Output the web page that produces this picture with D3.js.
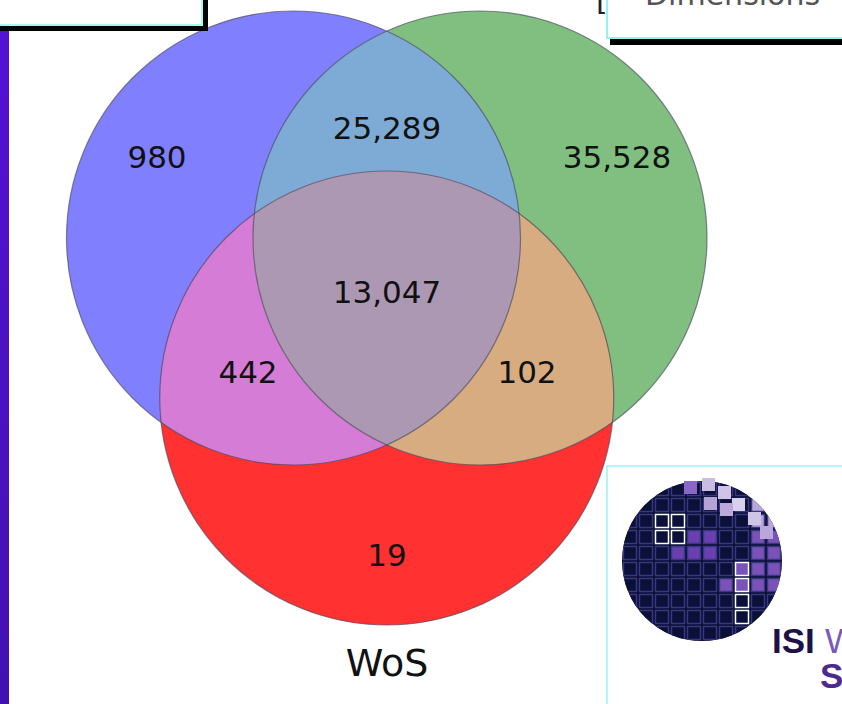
<!DOCTYPE html>
<html><head><meta charset="utf-8">
<script src="https://cdn.jsdelivr.net/npm/d3@7"></script>
<style>html,body{margin:0;padding:0;background:#fff;overflow:hidden}svg{display:block}</style>
</head><body>
<svg id="c" width="842" height="704"></svg>
<script>
// ---- data ----
const setNames = ["Scopus", "Dimensions", "WoS"];
const regionKeys = ["100", "010", "001", "110", "101", "011", "111"];
const regionValues = [980, 35528, 19, 25289, 442, 102, 13047];
const regionColors = ["#8080fe", "#80bf80", "#ff3131", "#7eaad6", "#d57cd7", "#d6ac80", "#ac98b2"];
const setColors = ["#8080fe", "#80bf80", "#ff3131"];

// ---- layout ----
const svg = d3.select("#c");
const x = d3.scaleLinear().domain([-1, 1]).range([293.5, 480]);
const y = d3.scaleLinear().domain([-1, 1]).range([238, 398]);
const R = 227;
const circles = [
  {cx: x(-1), cy: y(-1)},
  {cx: x(1), cy: y(-1)},
  {cx: (x(-1) + x(1)) / 2, cy: y(1)}
];

const defs = svg.append("defs");
circles.forEach((c, i) => {
  defs.append("clipPath").attr("id", "clip" + i)
    .append("circle").attr("cx", c.cx).attr("cy", c.cy).attr("r", R);
});
defs.append("clipPath").attr("id", "globeclip")
  .append("circle").attr("cx", 702).attr("cy", 561).attr("r", 80);
const grad = defs.append("linearGradient").attr("id", "bar").attr("x1", 0).attr("y1", 0).attr("x2", 0).attr("y2", 1);
grad.append("stop").attr("offset", 0).attr("stop-color", "#5312d4");
grad.append("stop").attr("offset", 1).attr("stop-color", "#4311b0");

const venn = svg.append("g");
// single-set fills
circles.forEach((c, i) => {
  venn.append("circle").attr("cx", c.cx).attr("cy", c.cy).attr("r", R).attr("fill", setColors[i]);
});
// pairwise and triple overlaps via nested clip paths
regionKeys.forEach((k, idx) => {
  const members = [...k].map((b, i) => b === "1" ? i : -1).filter(i => i >= 0);
  if (members.length < 2) return;
  let g = venn;
  members.slice(0, -1).forEach(m => { g = g.append("g").attr("clip-path", `url(#clip${m})`); });
  const last = circles[members[members.length - 1]];
  g.append("circle").attr("cx", last.cx).attr("cy", last.cy).attr("r", R).attr("fill", regionColors[idx]);
});
// outlines
circles.forEach(c => {
  venn.append("circle").attr("cx", c.cx).attr("cy", c.cy).attr("r", R)
    .attr("fill", "none").attr("stroke", "#4a4a60").attr("stroke-opacity", 0.65).attr("stroke-width", 1.2);
});

// region labels
const labelPos = {
  "100": [157, 157], "010": [617, 157], "001": [387, 555],
  "110": [387, 128], "101": [248, 372], "011": [527, 372], "111": [387, 292]
};
const fmt = d3.format(",");
regionKeys.forEach((k, i) => {
  svg.append("text").attr("x", labelPos[k][0]).attr("y", labelPos[k][1])
    .attr("text-anchor", "middle").attr("dominant-baseline", "central")
    .attr("font-family", "DejaVu Sans").attr("font-size", 31).attr("fill", "#111")
    .text(fmt(regionValues[i]));
});
// set label (only WoS visible in frame)
svg.append("text").attr("x", 387).attr("y", 676).attr("text-anchor", "middle")
  .attr("font-family", "DejaVu Sans").attr("font-size", 38).attr("fill", "#111").text(setNames[2]);

// ---- surrounding slide decorations ----
// left purple bar
svg.append("rect").attr("x", 0).attr("y", 31).attr("width", 9).attr("height", 673).attr("fill", "url(#bar)");
// top-left box
svg.append("rect").attr("x", 0).attr("y", 26).attr("width", 208).attr("height", 5).attr("fill", "#000");
svg.append("rect").attr("x", 203).attr("y", 0).attr("width", 5).attr("height", 31).attr("fill", "#000");
svg.append("rect").attr("x", -2).attr("y", -2).attr("width", 204).attr("height", 27).attr("fill", "#fff").attr("stroke", "#6ff0f0").attr("stroke-width", 1.2);
// top-right box
svg.append("text").attr("x", 596).attr("y", 10).attr("font-family", "DejaVu Sans").attr("font-size", 30).attr("fill", "#222").text("[");
svg.append("rect").attr("x", 610).attr("y", 39).attr("width", 240).attr("height", 6).attr("fill", "#000");
svg.append("rect").attr("x", 607).attr("y", -2).attr("width", 240).attr("height", 40).attr("fill", "#fff").attr("stroke", "#6ff0f0").attr("stroke-width", 1.5);
svg.append("text").attr("x", 645).attr("y", 5).attr("font-family", "DejaVu Sans").attr("font-size", 30).attr("fill", "#555").text("Dimensions");

// bottom-right logo box
svg.append("rect").attr("x", 607).attr("y", 466).attr("width", 240).attr("height", 245).attr("fill", "#fff").attr("stroke", "#7ff0f0").attr("stroke-width", 1.2);
const globe = svg.append("g");
globe.append("circle").attr("cx", 702).attr("cy", 561).attr("r", 80).attr("fill", "#0a1038");
const cells = globe.append("g").attr("clip-path", "url(#globeclip)");
const cs = 16, gap = 3;
for (let r = 0; r < 11; r++) {
  for (let c = 0; c < 11; c++) {
    const cx0 = 622 + c * cs, cy0 = 481 + r * cs;
    let col = "#0a1038", stroke = "#3b3680";
    const dx = c - 5, dy = r - 5;
    if (dx + dy * 0.6 > 1.5 && dy < 2) col = "#7b52b8";
    if (c >= 3 && c <= 5 && r >= 3 && r <= 4) col = "#6a3fb0";
    if (dx >= 3 && dy <= -3) col = "#b9a6d8";
    if ((c === 2 || c === 3) && (r === 2 || r === 3)) { col = "#0a1038"; stroke = "#ffffff"; }
    if (c === 7 && r >= 5 && r <= 8) { stroke = "#ffffff"; }
    cells.append("rect").attr("x", cx0 + gap / 2).attr("y", cy0 + gap / 2)
      .attr("width", cs - gap).attr("height", cs - gap)
      .attr("fill", col).attr("stroke", stroke).attr("stroke-width", 1.5);
  }
}
// squares spilling out top-right
[[684,481,"#8a67c4"],[702,478,"#c9bde2"],[718,486,"#cfc3e6"],[732,498,"#d8cfec"],[748,512,"#cfc5e6"],[760,526,"#b8a7d8"],[704,497,"#b6a3d6"],[720,503,"#bba9da"]].forEach(s => {
  globe.append("rect").attr("x", s[0]).attr("y", s[1]).attr("width", 13).attr("height", 13).attr("fill", s[2]);
});
svg.append("text").attr("x", 772).attr("y", 653).attr("font-family", "Liberation Sans").attr("font-weight", "bold")
  .attr("font-size", 35).attr("fill", "#1c1248").text("ISI");
svg.append("text").attr("x", 825).attr("y", 653).attr("font-family", "Liberation Sans")
  .attr("font-size", 35).attr("fill", "#7a5ab8").text("W");
svg.append("text").attr("x", 820).attr("y", 688).attr("font-family", "Liberation Sans").attr("font-weight", "bold")
  .attr("font-size", 35).attr("fill", "#4e2a8e").text("S");
</script>
</body></html>
